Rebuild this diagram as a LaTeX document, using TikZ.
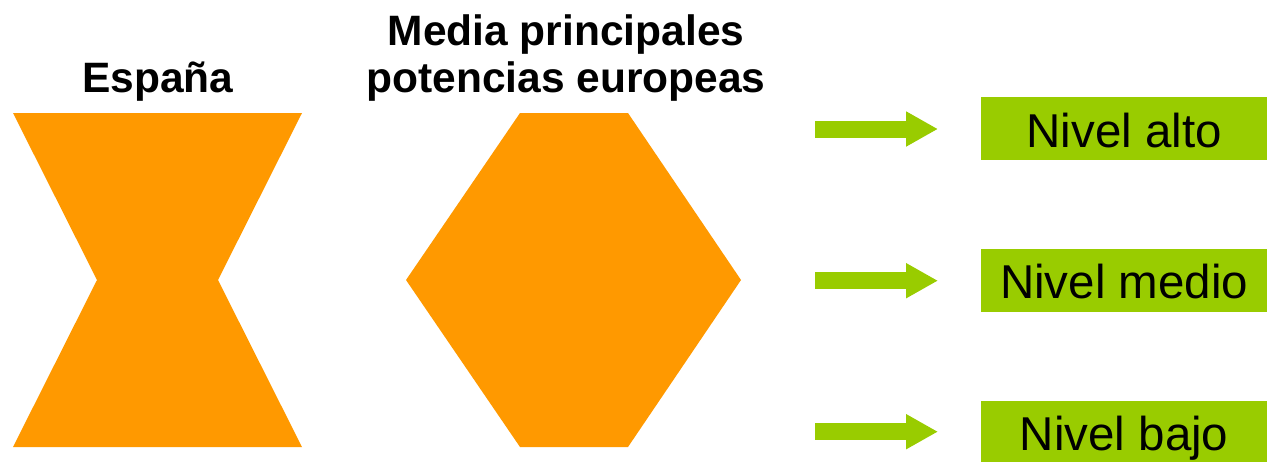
\documentclass[tikz,border=0pt]{standalone}
\usepackage{fontspec}
\setmainfont{Liberation Sans}
\usetikzlibrary{arrows.meta}
\definecolor{naranja}{HTML}{FF9900}
\definecolor{verde}{HTML}{99CC00}
\tikzstyle{titulo}=[font=\fontsize{42.5}{47}\selectfont\bfseries, align=center, inner sep=0pt, anchor=base]
\tikzstyle{nivel}=[fill=verde, minimum width=286pt, minimum height=63pt, inner sep=0pt, text height=37.6pt, text depth=0pt, font=\fontsize{47.5}{50}\selectfont, anchor=west]
\tikzstyle{flecha}=[draw=verde, line width=17pt, -{Triangle[length=32pt,width=33pt]}]

\begin{document}
\begin{tikzpicture}[x=1pt,y=-1pt]
\useasboundingbox (0,0) rectangle (1267,461);
% figuras
\fill[naranja] (13,113) -- (302,113) -- (218,280) -- (302,447) -- (13,447) -- (97,280) -- cycle;
\fill[naranja] (520,113) -- (628,113) -- (741,280) -- (628,447) -- (520,447) -- (406,280) -- cycle;
\node[titulo] (espana) at (158,92) {España};
\node[titulo] (media) at (566,92) {Media principales\\potencias europeas};
% niveles
\node[nivel] (alto) at (981,128.5) {Nivel alto};
\node[nivel] (medio) at (981,280) {Nivel medio};
\node[nivel] (bajo) at (981,432) {Nivel bajo};
\coordinate (f1) at (815,129);
\coordinate (t1) at (938,129);
\coordinate (f2) at (815,280.7);
\coordinate (t2) at (938,280.7);
\coordinate (f3) at (815,431.7);
\coordinate (t3) at (938,431.7);
\draw[flecha] (f1) -- (t1);
\draw[flecha] (f2) -- (t2);
\draw[flecha] (f3) -- (t3);
\end{tikzpicture}
\end{document}
